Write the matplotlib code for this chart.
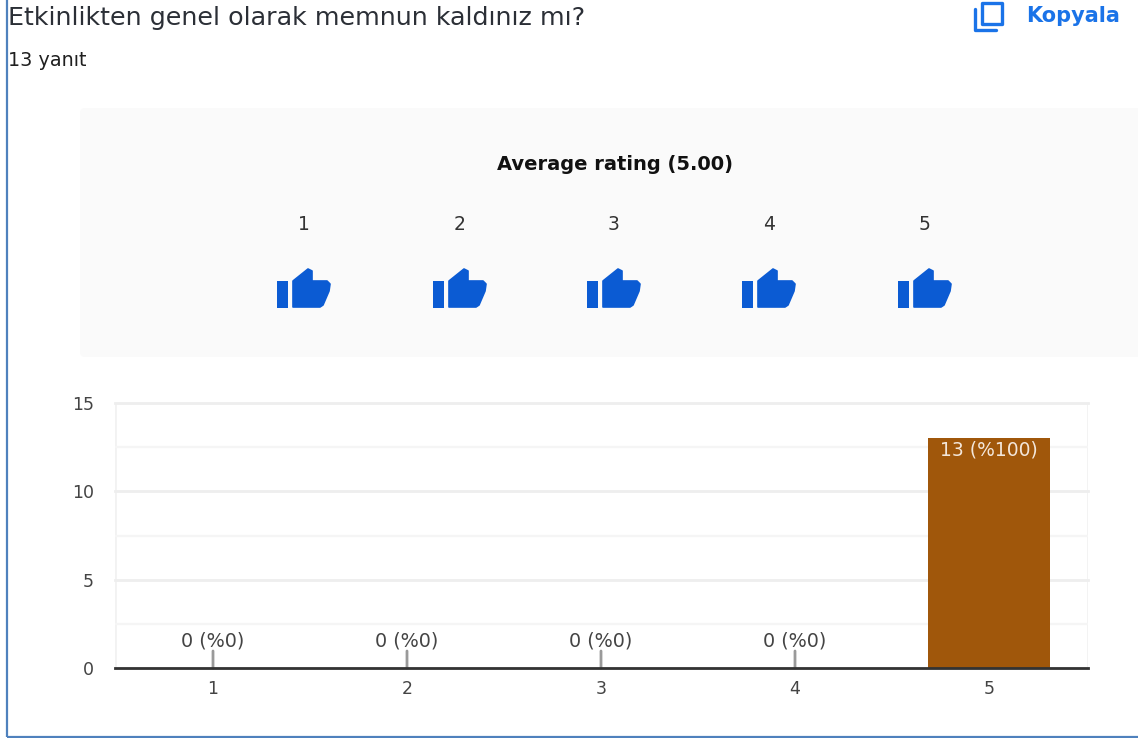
import matplotlib
matplotlib.use("Agg")
import matplotlib.pyplot as plt
from matplotlib.patches import FancyBboxPatch, Polygon, Rectangle, PathPatch
from matplotlib.path import Path

W, H = 1138, 738
categories = ["1", "2", "3", "4", "5"]
counts = [0, 0, 0, 0, 13]
labels = ["0 (%0)", "0 (%0)", "0 (%0)", "0 (%0)", "13 (%100)"]
y_major = [0, 5, 10, 15]
y_minor = [2.5, 7.5, 12.5]
rating_scale = ["1", "2", "3", "4", "5"]
rating_px = [304, 460, 614, 769, 925]

plt.rcParams["font.family"] = ["DejaVu Sans"]
fig = plt.figure(figsize=(W / 100, H / 100), dpi=100, facecolor="white")

bg = fig.add_axes([0, 0, 1, 1], zorder=0)
bg.set_xlim(0, W)
bg.set_ylim(H, 0)
bg.axis("off")

BORDER = "#4f81bd"
bg.plot([7, 7], [0, 737], color=BORDER, lw=1.6, solid_capstyle="butt")
bg.plot([7, W], [737, 737], color=BORDER, lw=1.6, solid_capstyle="butt")

TXT = "#2b2f36"
bg.text(8, 18, "Etkinlikten genel olarak memnun kaldınız mı?", fontsize=18.3, color=TXT, va="center", ha="left")
bg.text(8, 60, "13 yanıt", fontsize=13.8, color="#1f1f1f", va="center", ha="left")

BLUE = "#1a73e8"
bg.text(1026, 16, "Kopyala", fontsize=15, color=BLUE, va="center", ha="left", fontweight="bold")
bg.add_patch(Rectangle((982, 3), 20, 21, fill=False, ec=BLUE, lw=2.4, joinstyle="round"))
bg.add_patch(PathPatch(Path([(975.5, 9), (975.5, 30), (996, 30)]), fill=False, ec=BLUE, lw=2.4, capstyle="round", joinstyle="round"))

bg.add_patch(FancyBboxPatch((80, 108), W - 75, 249, boxstyle="round,pad=0,rounding_size=5", fc="#fafafa", ec="none"))
bg.text(615, 165, "Average rating (5.00)", fontsize=14, fontweight="bold", color="#111111", ha="center", va="center")

THUMB = "#0b5bd3"
def thumb(cx):
    x0 = cx - 27
    y0 = 268
    bg.add_patch(Rectangle((x0, y0 + 13), 11, 27, fc=THUMB, ec="none"))
    pts = [(16, 13), (31, 1), (35, 3), (35, 13), (50, 13), (53, 16), (52, 23),
           (46, 37), (43, 39), (16, 39)]
    bg.add_patch(Polygon([(x0 + a, y0 + b) for a, b in pts], closed=True, fc=THUMB, ec=THUMB, lw=1.2, joinstyle="round"))

for px, r in zip(rating_px, rating_scale):
    bg.text(px, 224, r, fontsize=13.5, color="#333333", ha="center", va="center")
    thumb(px)

L, R, T, B = 115, 1088, 403, 668
ax = fig.add_axes([L / W, 1 - B / H, (R - L) / W, (B - T) / H], zorder=1)
ax.patch.set_alpha(0)
x = list(range(1, 6))
ax.set_xlim(1 - 98 / 194, 5 + 99 / 194)
ax.set_ylim(0, 15)

for s in ["top", "right", "left"]:
    ax.spines[s].set_visible(False)
ax.spines["bottom"].set_color("#333333")
ax.spines["bottom"].set_linewidth(2)
ax.spines["bottom"].set_zorder(5)

ax.set_yticks(y_major)
ax.set_yticks(y_minor, minor=True)
ax.set_xticks(x, categories)
ax.tick_params(axis="both", which="both", length=0)
ax.tick_params(axis="x", labelsize=12.5, labelcolor="#444444", pad=9)
ax.tick_params(axis="y", labelsize=12.5, labelcolor="#444444", pad=15)
ax.grid(True, axis="y", which="major", color="#eeeeee", lw=2)
ax.grid(True, axis="y", which="minor", color="#f5f5f5", lw=1.6)
ax.axvline(ax.get_xlim()[0], color="#f2f2f2", lw=2, zorder=0)
ax.axvline(ax.get_xlim()[1], color="#f2f2f2", lw=2, zorder=0)
ax.set_axisbelow(True)
for line in ax.get_ygridlines():
    line.set_clip_on(False)

ax.bar(x, counts, width=0.634, color="#a0570b", zorder=3)
for xi, c, lab in zip(x, counts, labels):
    if c == 0:
        ax.annotate("", xy=(xi, 0), xytext=(0, 17), textcoords="offset pixels",
                    arrowprops=dict(arrowstyle="-", color="#9a9a9a", lw=2, shrinkA=0, shrinkB=0), zorder=4)
        ax.annotate(lab, xy=(xi, c), xytext=(0, 27), textcoords="offset pixels", ha="center", va="center", fontsize=13.8, color="#444444", zorder=4)
    else:
        ax.annotate(lab, xy=(xi, c), xytext=(0, -12), textcoords="offset pixels", ha="center", va="center", fontsize=13.5, color="#f3e6da", zorder=4)

fig.savefig("out.png", dpi=100, facecolor="white")
